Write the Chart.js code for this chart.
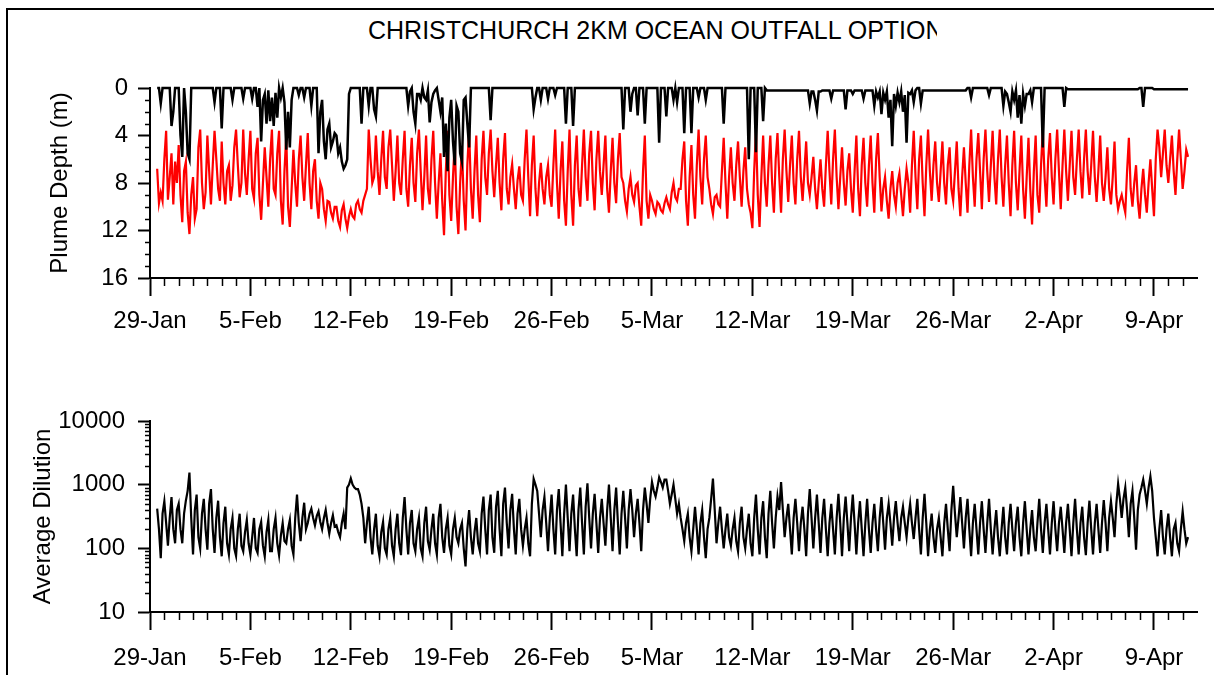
<!DOCTYPE html>
<html>
<head>
<meta charset="utf-8">
<script src="https://cdn.jsdelivr.net/npm/chart.js@4.4.1/dist/chart.umd.min.js"></script>
<style>
  html, body { margin: 0; padding: 0; background: #fff; overflow: hidden; width: 1214px; height: 675px; }
  #frame { position: absolute; left: 6px; top: 8px; width: 1230px; height: 720px; border: 2px solid #000; box-sizing: border-box; }
  #title { position: absolute; left: 368px; top: 18px; width: 569px; overflow: hidden; white-space: nowrap;
           font: 25px/25px "Liberation Sans", Arial, sans-serif; color: #000; }
  canvas { position: absolute; left: 0; }
  #depthChart { top: 0; }
  #dilutionChart { top: 345px; }
</style>
</head>
<body>
<div id="frame"></div>
<div id="title">CHRISTCHURCH 2KM OCEAN OUTFALL OPTION</div>
<canvas id="depthChart" width="1214" height="345"></canvas>
<canvas id="dilutionChart" width="1214" height="330"></canvas>
<script>
// x axis: days after 29-Jan 00:00, one sample every 3 hours from day 0.5
const firstDay = 0.5;
const stepDay = 0.125;
const xMaxDay = 73;
const xTickDays = [0, 7, 14, 21, 28, 35, 42, 49, 56, 63, 70];
const xTickLabels = ['29-Jan', '5-Feb', '12-Feb', '19-Feb', '26-Feb', '5-Mar', '12-Mar', '19-Mar', '26-Mar', '2-Apr', '9-Apr'];

const depthTicks = [0, 4, 8, 12, 16];
const depthMinorTicks = [1, 2, 3, 5, 6, 7, 9, 10, 11, 13, 14, 15];
const dilutionTicks = [10, 100, 1000, 10000];
const dilutionMinorTicks = [20, 30, 40, 50, 60, 70, 80, 90, 200, 300, 400, 500, 600, 700, 800, 900,
  2000, 3000, 4000, 5000, 6000, 7000, 8000, 9000];

// plume top depth (m), black
const plumeTop = [
  0, 0, 1.3, 0,
  0, 0, 0, 0, 3.2, 2.0, 0, 0,   0, 4.0, 5.8, 0, 2.0, 5.5, 6.0, 0,   0, 0, 0, 0, 0, 0, 0, 0,
  0, 0, 0, 0, 1.2, 0, 0, 0,   3.4, 0, 0, 0, 0, 0, 1.0, 0,
  0, 0, 0, 0, 0.9, 0, 0, 0,   0, 0.9, 0, 0, 1.6, 0, 4.5, 1.0,   0.5, 3.0, 0.2, 2.8, 0.8, 3.2, 0.4, 2.5,
  0, 0.8, 0, 1.2, 5.2, 2.0, 5.0, 1.0,   0, 0, 0, 0.6, 0, 0, 0.8, 0,
  0, 0, 1.5, 0, 0, 0, 5.5, 2.0,   1.0, 4.5, 6.0, 3.5, 3.0, 5.0, 4.5, 3.8,   4.0, 5.5, 5.0, 6.2, 6.8, 6.5, 6.0, 0.5,
  0, 0, 0, 0, 0, 0, 3.0, 0,   0, 0, 1.5, 0, 0, 1.8, 2.4, 0,
  0, 0, 0, 0, 0, 0, 0, 0,   0, 0, 0, 0, 0, 0, 0, 0,   1.5, 0.3, 0, 2.0, 3.0, 0.5, 0.5, 1.0,
  0, 0.8, 1.0, 0.2, 2.9, 1.2, 0.5, 0.2,   0, 1.0, 2.0, 0.8, 5.8, 3.0, 7.0, 2.5,
  1.0, 4.5, 6.5, 1.5, 2.0, 5.5, 6.2, 1.0,   0.8, 3.0, 5.0, 0, 0, 0, 0, 0,   0, 0, 0, 0, 0, 0, 2.7, 0,
  0, 0, 0, 0, 0, 0, 0, 0,   0, 0, 0, 0, 0, 0, 0, 0,
  0, 0, 0, 0, 0, 0, 1.8, 0.8,   0, 0, 1.0, 0, 0, 0, 0.9, 0,   0, 0, 0.6, 0, 0, 0, 0, 0,
  3.0, 0, 0, 0, 3.2, 0, 0, 0,   0, 0, 0, 0, 0, 0, 0, 0,
  0, 0, 0, 0, 0, 0, 0, 0,   0, 0, 0, 0, 0, 0, 0, 0,   3.5, 0, 0, 0, 2.0, 0.5, 0, 0,
  2.3, 0, 0, 0, 3.0, 0, 0, 0,   0, 0, 0, 0, 4.6, 0, 0, 0,
  2.4, 0, 0, 0, 1.0, 0, 1.2, 0,   0, 0, 3.8, 0, 0, 0, 3.8, 0,   0, 0, 0.8, 0, 0, 0, 1.0, 0,
  0, 0, 0, 0, 0, 0, 0, 0,   3.0, 0, 0, 0, 0, 0, 0, 0,
  0, 0, 0, 0, 0, 0, 6.0, 0,   0, 0, 5.4, 0, 0, 0, 2.8, 0,   0.2, 0.2, 0.2, 0.2, 0.2, 0.2, 0.2, 0.2,
  0.2, 0.2, 0.2, 0.2, 0.2, 0.2, 0.2, 0.2,   0.2, 0.2, 0.2, 0.2, 0.2, 0.2, 0.2, 0.2,
  1.3, 0.3, 0.3, 1.0, 1.9, 0.3, 0.3, 0.2,   0.2, 0.2, 0.2, 0.2, 0.9, 0.2, 0.2, 0.2,   0.2, 0.2, 0.2, 0.2, 1.8, 0.2, 0.2, 0.2,
  0.5, 0.2, 0.2, 0.2, 0.2, 0.2, 0.9, 0.2,   0.2, 0.2, 0.2, 0.2, 1.5, 0.3, 0.8, 0.3,
  2.2, 0.4, 1.0, 0.3, 2.5, 1.0, 4.9, 0.5,   1.5, 0.4, 1.2, 0.3, 2.0, 0.6, 4.6, 0.4,   0.5, 0.2, 1.2, 0.2, 0, 0, 1.3, 0.2,
  0.2, 0.2, 0.2, 0.2, 0.2, 0.2, 0.2, 0.2,   0.2, 0.2, 0.2, 0.2, 0.2, 0.2, 0.2, 0.2,
  0.2, 0.2, 0.2, 0.2, 0.2, 0.2, 0.2, 0.2,   0, 0, 0.8, 0, 0, 0, 0, 0,   0, 0, 0, 0, 0.6, 0, 0, 0,
  0, 0, 0, 0, 1.5, 0.3, 0.5, 1.2,   2.0, 0.3, 1.0, 0.2, 2.5, 0.6, 3.0, 0.5,
  1.5, 0.5, 0.5, 0.2, 1.2, 0, 0, 0,   0, 0, 5.0, 0, 0, 0, 0, 0,   0, 0, 0, 0, 0, 0, 1.6, 0,
  0.1, 0.1, 0.1, 0.1, 0.1, 0.1, 0.1, 0.1,   0.1, 0.1, 0.1, 0.1, 0.1, 0.1, 0.1, 0.1,
  0.1, 0.1, 0.1, 0.1, 0.1, 0.1, 0.1, 0.1,   0.1, 0.1, 0.1, 0.1, 0.1, 0.1, 0.1, 0.1,   0.1, 0.1, 0.1, 0.1, 0.1, 0.1, 0.1, 0.1,
  0, 0, 1.6, 0, 0, 0, 0, 0,   0.1, 0.1, 0.1, 0.1, 0.1, 0.1, 0.1, 0.1,   0.1, 0.1, 0.1, 0.1, 0.1, 0.1, 0.1, 0.1,
  0.1, 0.1, 0.1, 0.1
];

// plume bottom depth (m), red
const plumeBottom = [
  6.8, 9.7, 8.8, 9.5,
  6.0, 3.6, 9.4, 7.5, 5.5, 9.8, 6.2, 8.0,   4.8, 9.0, 11.3, 7.0, 6.2, 10.5, 12.3, 9.0,   7.5, 11.0, 10.2, 5.0, 3.5, 8.0, 10.2, 8.8,
  4.0, 7.0, 9.8, 6.5, 3.6, 6.0, 8.5, 9.5,   4.5, 8.0, 9.8, 7.0, 6.5, 9.5, 8.2, 5.0,
  3.5, 6.5, 9.2, 8.0, 3.5, 7.2, 9.0, 6.0,   3.6, 8.5, 9.3, 5.5, 4.2, 9.0, 11.1, 8.0,   5.0, 7.5, 10.0, 6.0, 3.5, 8.5, 9.0, 5.5,
  3.6, 9.5, 11.5, 7.0, 4.0, 10.0, 11.7, 8.5,   5.2, 8.0, 10.0, 6.0, 4.0, 7.5, 9.5, 6.5,
  3.8, 8.0, 10.2, 7.0, 6.0, 9.5, 11.0, 8.0,   8.5, 10.2, 11.2, 9.5, 9.6, 10.5, 11.0, 10.0,   10.0, 11.2, 11.7, 10.3, 9.8, 11.0, 11.8, 10.8,
  10.2, 10.8, 11.0, 9.8, 9.5, 10.2, 10.5, 9.5,   9.0, 8.5, 3.5, 6.0, 8.0, 7.5, 4.0, 7.0,
  9.0, 6.0, 3.6, 7.5, 8.5, 5.0, 3.5, 6.5,   9.5, 7.0, 4.0, 8.0, 9.0, 6.0, 3.6, 8.5,   10.0, 6.5, 4.2, 8.0, 9.6, 5.5, 3.5, 7.0,
  10.3, 7.5, 4.0, 8.5, 9.8, 6.0, 3.6, 8.0,   11.0, 8.0, 5.5, 9.5, 12.4, 7.0, 3.6, 9.0,
  11.2, 7.5, 4.5, 10.0, 12.3, 8.0, 5.0, 9.5,   12.0, 6.5, 3.5, 8.5, 11.0, 7.0, 4.0, 9.0,   11.3, 6.0, 3.6, 7.5, 9.0, 5.5, 3.5, 7.0,
  9.2, 6.5, 4.2, 8.0, 10.3, 6.0, 3.8, 8.5,   9.8, 7.5, 6.4, 8.5, 10.2, 7.8, 6.6, 9.0,
  9.5, 6.0, 3.5, 7.5, 10.8, 6.5, 4.0, 8.5,   10.8, 8.0, 6.3, 8.5, 9.8, 7.5, 6.5, 9.0,   10.0, 6.5, 3.5, 8.0, 11.0, 7.0, 4.5, 9.5,
  11.6, 7.0, 3.5, 9.0, 11.6, 6.5, 4.0, 8.5,   10.0, 6.5, 3.5, 7.5, 9.5, 5.5, 3.6, 8.0,
  10.3, 6.0, 3.6, 7.0, 9.0, 6.5, 4.0, 8.5,   10.5, 7.0, 4.2, 8.0, 9.7, 6.0, 3.8, 7.5,   8.0, 9.5, 10.4, 8.5, 7.5, 9.0, 9.6, 8.2,
  8.0, 10.0, 11.6, 7.0, 4.0, 9.5, 11.0, 9.0,   9.5, 10.2, 10.6, 9.6, 9.8, 10.3, 10.5, 9.7,
  9.2, 9.8, 10.2, 8.8, 8.0, 9.2, 9.5, 8.5,   8.5, 6.0, 4.5, 9.5, 11.6, 7.5, 4.8, 9.0,   11.0, 6.5, 3.5, 7.5, 9.8, 6.0, 4.0, 7.5,
  8.5, 9.8, 10.6, 9.2, 9.0, 9.8, 10.0, 7.0,   4.2, 8.0, 11.0, 7.5, 5.0, 8.0, 9.5, 6.5,
  4.5, 7.5, 10.0, 7.0, 5.0, 8.5, 9.8, 10.5,   11.8, 7.0, 3.5, 9.0, 11.7, 7.5, 4.0, 8.0,   10.0, 6.5, 4.0, 8.0, 10.5, 6.0, 3.8, 7.5,
  10.5, 6.0, 3.5, 7.0, 9.6, 6.5, 4.0, 8.0,   9.8, 6.0, 3.6, 7.5, 9.5, 7.0, 4.5, 8.0,
  9.0, 7.5, 5.8, 8.5, 10.2, 8.0, 6.0, 8.5,   10.0, 6.5, 3.6, 7.0, 9.8, 6.0, 3.5, 7.5,   10.2, 7.5, 5.0, 8.0, 9.9, 7.0, 5.5, 8.5,
  10.5, 7.0, 4.0, 8.5, 10.8, 6.5, 4.2, 8.0,   10.0, 6.5, 4.0, 8.0, 10.5, 6.0, 3.8, 7.5,
  10.4, 8.5, 7.5, 9.5, 11.0, 8.5, 7.0, 9.0,   10.0, 8.0, 7.2, 9.0, 10.8, 8.5, 6.8, 8.0,   10.5, 6.5, 3.6, 7.5, 10.2, 6.0, 4.0, 8.0,
  10.8, 6.5, 3.5, 7.0, 9.5, 6.5, 4.5, 8.0,   9.6, 7.0, 4.5, 8.0, 9.8, 6.5, 5.0, 8.5,
  9.5, 7.0, 4.5, 8.5, 10.8, 7.5, 5.0, 8.0,   10.5, 6.5, 3.5, 7.5, 10.0, 6.0, 3.8, 7.0,   10.2, 6.0, 3.5, 7.0, 9.6, 6.5, 3.6, 7.5,
  9.8, 6.0, 3.5, 7.5, 10.0, 6.5, 4.0, 8.0,   10.8, 6.5, 3.6, 8.0, 10.3, 7.0, 4.0, 8.5,
  11.0, 7.5, 4.2, 8.5, 11.5, 7.0, 4.0, 9.0,   10.5, 6.5, 3.5, 7.5, 10.0, 6.0, 3.8, 7.5,   9.8, 6.0, 3.5, 7.0, 10.2, 6.5, 3.5, 7.0,
  9.5, 6.5, 3.6, 7.5, 9.0, 6.0, 3.5, 7.0,   9.3, 6.0, 3.5, 7.0, 9.0, 6.5, 3.6, 7.5,
  9.6, 7.0, 4.0, 8.0, 9.5, 7.5, 5.0, 8.5,   9.8, 7.5, 4.5, 9.0, 10.2, 9.5, 9.0, 9.8,   10.5, 7.0, 4.2, 8.5, 10.0, 8.0, 6.5, 9.5,
  11.0, 8.5, 6.8, 9.0, 10.5, 8.0, 6.0, 8.5,   10.8, 6.0, 3.5, 5.0, 7.5, 5.5, 3.5, 6.5,
  8.0, 6.0, 4.0, 7.0, 9.0, 6.0, 3.5, 6.0,
  8.5, 7.0, 5.2, 5.8
];

// average dilution, black
const dilution = [
  420, 200, 70, 350,
  550, 250, 110, 300, 640, 200, 120, 400,   500, 200, 120, 350, 560, 800, 1550, 300,   80, 400, 700, 150, 100, 350, 600, 200,
  95, 500, 850, 200, 85, 300, 560, 150,   75, 250, 450, 120, 80, 200, 300, 100,
  76, 200, 350, 110, 90, 180, 280, 120,   80, 150, 300, 100, 85, 200, 260, 110,   75, 180, 280, 90, 90, 200, 300, 120,
  78, 160, 250, 130, 120, 200, 280, 110,   80, 300, 700, 250, 130, 300, 520, 200,
  250, 350, 420, 300, 230, 320, 380, 260,   200, 300, 400, 250, 170, 250, 330, 220,   230, 180, 150, 250, 350, 200, 900, 1000,
  1250, 1000, 900, 850, 850, 700, 500, 300,   120, 250, 450, 150, 80, 200, 350, 110,
  75, 180, 260, 100, 80, 200, 300, 110,   75, 200, 350, 120, 78, 300, 640, 200,   80, 250, 400, 120, 90, 200, 300, 100,
  75, 250, 450, 130, 95, 200, 350, 120,   80, 300, 500, 150, 85, 200, 300, 110,
  80, 200, 300, 150, 120, 200, 250, 100,   52, 200, 400, 150, 80, 180, 300, 120,   90, 350, 650, 200, 80, 400, 700, 150,
  85, 450, 800, 200, 75, 500, 900, 250,   100, 400, 720, 200, 80, 350, 600, 200,
  110, 200, 300, 120, 75, 500, 1230, 1000,   800, 350, 150, 400, 640, 250, 90, 300,   700, 200, 80, 400, 850, 250, 75, 350,
  1000, 300, 90, 350, 700, 200, 75, 400,   900, 250, 80, 450, 1050, 300, 100, 350,
  720, 250, 85, 300, 600, 250, 110, 400,   1000, 300, 90, 400, 900, 250, 80, 350,   800, 300, 100, 400, 850, 400, 150, 350,
  600, 250, 90, 400, 900, 500, 250, 600,   1100, 800, 650, 900, 1300, 1100, 900, 1200,
  1200, 800, 500, 700, 1000, 600, 350, 500,   300, 200, 130, 250, 350, 150, 90, 200,   450, 200, 80, 250, 400, 150, 70, 200,
  300, 600, 1250, 400, 120, 250, 450, 200,   100, 200, 350, 150, 110, 200, 300, 130,
  90, 250, 450, 150, 100, 200, 350, 120,   75, 300, 700, 200, 80, 300, 550, 150,   70, 350, 800, 250, 100, 300, 650, 400,
  1100, 400, 150, 300, 500, 200, 80, 300,   600, 250, 90, 250, 450, 200, 75, 350,
  850, 300, 100, 300, 700, 250, 85, 300,   600, 200, 75, 250, 500, 200, 80, 300,   720, 250, 75, 300, 650, 250, 90, 300,
  700, 250, 80, 250, 550, 200, 75, 250,   600, 200, 85, 250, 500, 200, 90, 300,
  640, 250, 95, 300, 500, 250, 110, 300,   550, 250, 130, 300, 450, 250, 150, 300,   500, 250, 140, 300, 600, 200, 80, 300,
  720, 250, 75, 200, 350, 150, 85, 200,   300, 150, 75, 250, 500, 200, 90, 400,
  960, 350, 150, 300, 640, 250, 100, 300,   600, 200, 75, 250, 500, 200, 80, 250,   550, 200, 85, 250, 600, 200, 80, 200,
  400, 150, 75, 200, 450, 150, 80, 250,   500, 200, 90, 250, 450, 150, 75, 250,
  550, 200, 80, 200, 400, 150, 90, 250,   600, 200, 85, 250, 500, 200, 80, 250,   550, 200, 90, 250, 450, 200, 85, 250,
  500, 200, 75, 250, 600, 200, 80, 250,   450, 150, 78, 250, 560, 200, 80, 250,
  500, 200, 85, 250, 570, 250, 90, 300,   550, 300, 150, 500, 1030, 600, 300, 600,   900, 400, 150, 500, 800, 300, 95, 400,
  700, 900, 1200, 800, 500, 900, 1350, 800,   300, 150, 75, 200, 400, 150, 80, 200,
  350, 150, 75, 200, 250, 120, 90, 200,
  380, 200, 120, 150
];

const FONT = '"Liberation Sans", Arial, sans-serif';
Chart.defaults.font.family = FONT;
Chart.defaults.font.size = 24;
Chart.defaults.color = '#000';

const toPoints = vals => vals.map((v, i) => ({ x: firstDay + i * stepDay, y: v }));

// short minor tick marks drawn with the chart's own scales
const minorTicks = {
  id: 'minorTicks',
  afterDraw(chart, args, opts) {
    const { ctx, chartArea: area, scales: { x, y } } = chart;
    ctx.save();
    ctx.strokeStyle = '#000';
    ctx.lineWidth = 1.5;
    ctx.beginPath();
    for (let d = 1; d < xMaxDay; d++) {
      if (d % 7 === 0) continue;
      const px = Math.round(x.getPixelForValue(d)) + 0.5;
      ctx.moveTo(px, area.bottom);
      ctx.lineTo(px, area.bottom + 8);
    }
    opts.yMinor.forEach(v => {
      const py = Math.round(y.getPixelForValue(v)) + 0.5;
      ctx.moveTo(area.left - 5, py);
      ctx.lineTo(area.left, py);
    });
    ctx.stroke();
    ctx.restore();
  }
};

function xAxis(axisHeight, labelPad) {
  return {
    type: 'linear', min: 0, max: xMaxDay,
    afterBuildTicks: s => { s.ticks = xTickDays.map(v => ({ value: v })); },
    afterFit: s => { s.height = axisHeight; },
    ticks: { callback: v => xTickLabels[xTickDays.indexOf(v)], padding: labelPad, maxRotation: 0, autoSkip: false },
    grid: { drawOnChartArea: false, tickLength: 18, tickWidth: 2, color: '#000' },
    border: { display: true, color: '#000', width: 2 },
  };
}

function baseOptions(padTop, yScale, yMinor, xHeight, xPad) {
  return {
    responsive: false,
    animation: false,
    layout: { padding: { top: padTop, right: 17, left: 0, bottom: 0 } },
    plugins: { legend: { display: false }, tooltip: { enabled: false }, minorTicks: { yMinor } },
    elements: { point: { radius: 0 }, line: { tension: 0 } },
    scales: { x: xAxis(xHeight, xPad), y: yScale },
  };
}

new Chart(document.getElementById('depthChart'), {
  type: 'line',
  data: {
    datasets: [
      { label: 'Plume top', data: toPoints(plumeTop), borderColor: '#000', borderWidth: 2.5, clip: false },
      { label: 'Plume bottom', data: toPoints(plumeBottom), borderColor: '#ff0000', borderWidth: 2.2, clip: false },
    ],
  },
  options: baseOptions(88, {
    type: 'linear', min: 0, max: 16, reverse: true,
    afterBuildTicks: s => { s.ticks = depthTicks.map(v => ({ value: v })); },
    afterFit: s => { s.width = 150; },
    ticks: { padding: 10, callback: v => String(v) },
    grid: { drawOnChartArea: false, tickLength: 12, tickWidth: 2, color: '#000' },
    border: { display: true, color: '#000', width: 2 },
    title: { display: true, text: 'Plume Depth (m)', padding: { top: 46 }, font: { size: 24 } },
  }, depthMinorTicks, 67, 11),
  plugins: [minorTicks],
});

new Chart(document.getElementById('dilutionChart'), {
  type: 'line',
  data: {
    datasets: [
      { label: 'Average Dilution', data: toPoints(dilution), borderColor: '#000', borderWidth: 2.2, clip: false },
    ],
  },
  options: baseOptions(76, {
    type: 'logarithmic', min: 10, max: 10000,
    afterBuildTicks: s => { s.ticks = dilutionTicks.map(v => ({ value: v })); },
    afterFit: s => { s.width = 150; },
    ticks: { padding: 13, callback: v => String(v) },
    grid: { drawOnChartArea: false, tickLength: 12, tickWidth: 2, color: '#000' },
    border: { display: true, color: '#000', width: 2 },
    title: { display: true, text: 'Average Dilution', padding: { top: 29 }, font: { size: 24 } },
  }, dilutionMinorTicks, 63, 14),
  plugins: [minorTicks],
});
</script>
</body>
</html>
